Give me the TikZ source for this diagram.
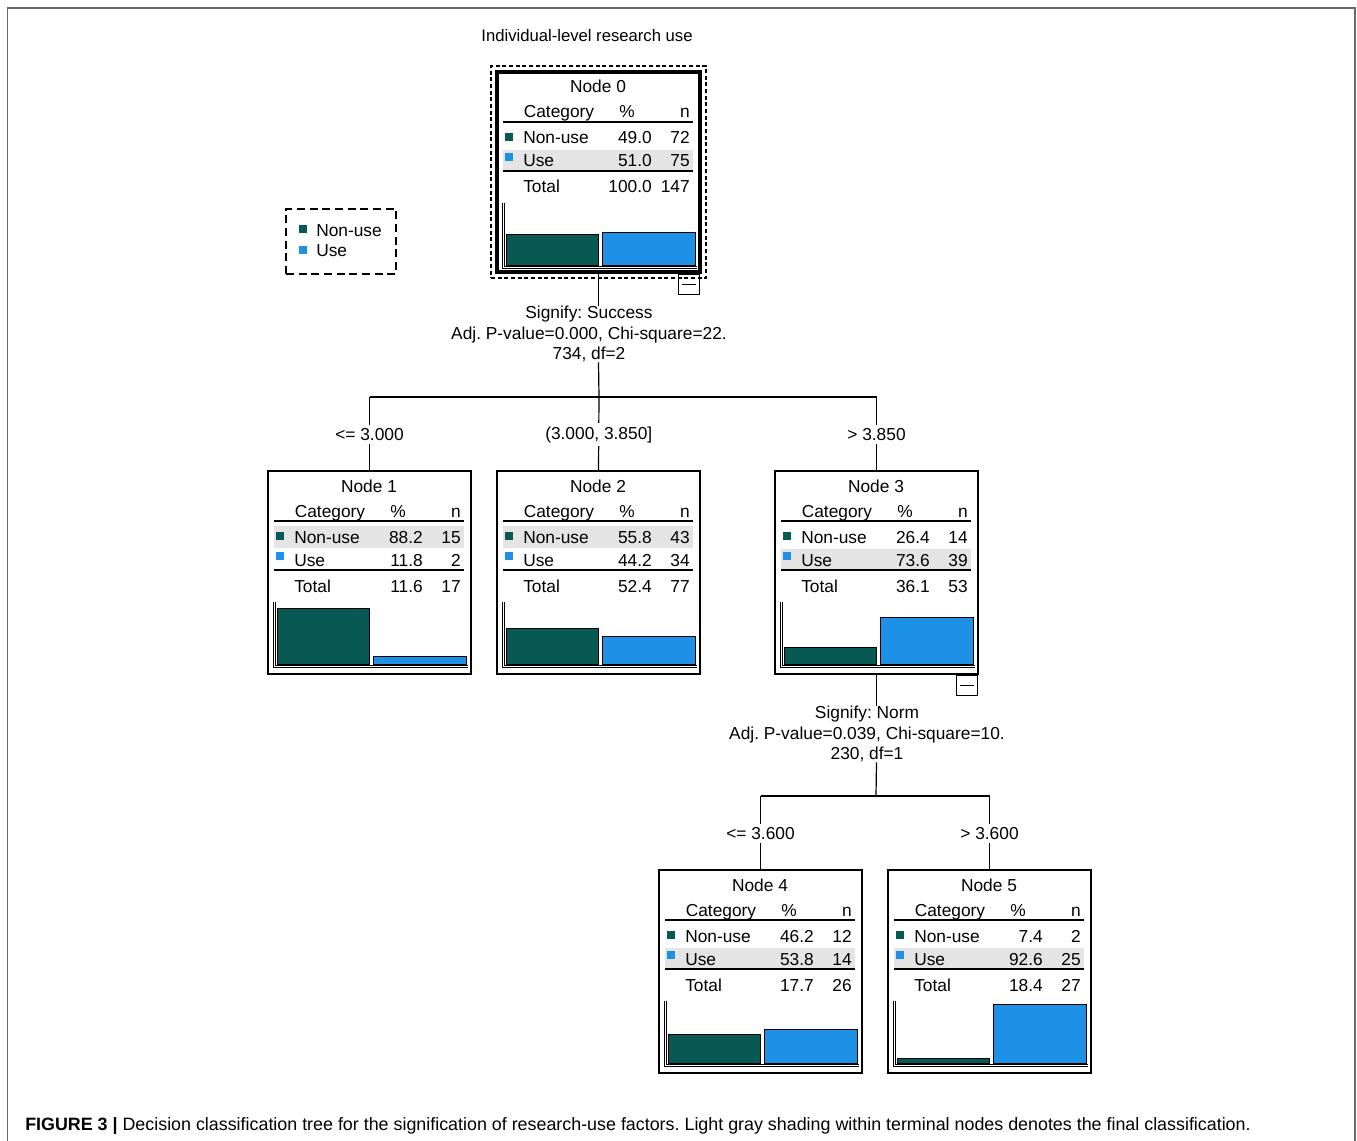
\documentclass[tikz,border=0pt]{standalone}
\usepackage{fontspec}
\setmainfont{Liberation Sans}
\usepackage{tikz}
\usetikzlibrary{positioning,fit}
\usepackage{xcolor}
\definecolor{nonusecol}{RGB}{8,88,84}
\definecolor{usecol}{RGB}{30,144,230}
\definecolor{rowgray}{RGB}{228,228,228}
\definecolor{framegray}{RGB}{105,105,105}
\tikzstyle{ctbox} = [draw, minimum width=152.25pt, anchor=north west, inner sep=0pt, outer sep=0pt]
\tikzstyle{ctxt} = [inner sep=0pt, font=\fontsize{13}{15.5}\selectfont]
\tikzstyle{cond} = [ctxt, fill=white, inner sep=2.5pt]
\tikzstyle{minbox} = [draw, minimum width=15.75pt, minimum height=15pt, anchor=north east, inner sep=0pt]
\tikzstyle{edge} = [line width=0.9pt]
\frenchspacing

\begin{document}
\begin{tikzpicture}[x=0.75pt, y=-0.75pt]
\useasboundingbox (0,0) rectangle (1357,1141);
% Figure frame
\draw[framegray, line width=1.4pt] (7.5,1141) -- (7.5,8) -- (1355,8) -- (1355,1141);
\node[ctxt, anchor=base, font=\fontsize{12.5}{14}\selectfont] (title) at (587,42) {Individual-level research use};

% Tree nodes: name/left/top/height/line/pct non-use/n/pct use/n/pct total/n/shaded row
\foreach \nm/\L/\T/\H/\lw/\pa/\na/\pb/\nb/\pt/\nt/\sh in {
    0/497/72/200/3pt/49.0/72/51.0/75/100.0/147/1,
    1/268/471/203/1pt/88.2/15/11.8/2/11.6/17/0,
    2/497/471/203/1pt/55.8/43/44.2/34/52.4/77/0,
    3/775/471/203/1pt/26.4/14/73.6/39/36.1/53/1,
    4/659/870/203/1pt/46.2/12/53.8/14/17.7/26/1,
    5/888/870/203/1pt/7.4/2/92.6/25/18.4/27/1} {
    \fill[rowgray] ({\L+6},{\T+55+23*\sh}) rectangle ({\L+196},{\T+77+23*\sh});
    \draw[line width=1.2pt] ({\L+6},{\T+50}) -- ++(190,0);
    \draw[line width=1.2pt] ({\L+6},{\T+99}) -- ++(190,0);
    \node[ctxt, anchor=base] (t\nm) at ({\L+101},{\T+21}) {Node \nm};
    \node[ctxt, anchor=base] (hc\nm) at ({\L+62},{\T+46}) {Category};
    \node[ctxt, anchor=base] (hp\nm) at ({\L+130},{\T+46}) {\%};
    \node[ctxt, anchor=base east] (hn\nm) at ({\L+193},{\T+46}) {n};
    \fill[nonusecol] ({\L+8},{\T+61}) rectangle ++(8,8);
    \fill[usecol] ({\L+8},{\T+81}) rectangle ++(8,8);
    \node[ctxt, anchor=base west] (ra\nm) at ({\L+26},{\T+72}) {Non-use};
    \node[ctxt, anchor=base east] (pa\nm) at ({\L+155},{\T+72}) {\pa};
    \node[ctxt, anchor=base east] (na\nm) at ({\L+193},{\T+72}) {\na};
    \node[ctxt, anchor=base west] (rb\nm) at ({\L+26},{\T+95}) {Use};
    \node[ctxt, anchor=base east] (pb\nm) at ({\L+155},{\T+95}) {\pb};
    \node[ctxt, anchor=base east] (nb\nm) at ({\L+193},{\T+95}) {\nb};
    \node[ctxt, anchor=base west] (rt\nm) at ({\L+26},{\T+121}) {Total};
    \node[ctxt, anchor=base east] (pt\nm) at ({\L+155},{\T+121}) {\pt};
    \node[ctxt, anchor=base east] (nt\nm) at ({\L+193},{\T+121}) {\nt};
    % bar chart
    \draw[fill=nonusecol, line width=0.6pt] ({\L+9},{\T+193}) rectangle ({\L+101},{\T+193-0.63*\pa});
    \draw[fill=usecol, line width=0.6pt] ({\L+105},{\T+193}) rectangle ({\L+198},{\T+193-0.63*\pb});
    \draw ({\L+5},{\T+131}) -- ({\L+5},{\T+196}) -- ({\L+200},{\T+196});
    \draw ({\L+7},{\T+131}) -- ({\L+7},{\T+194}) -- ({\L+200},{\T+194});
    \node[ctbox, line width=\lw, minimum height={\H*0.75pt}] (n\nm) at (\L,\T) {};
}

% Root selection and collapse boxes
\node[draw, line width=1.2pt, dash pattern=on 3pt off 2pt, fit=(n0), inner sep=4.5pt] (f0) {};
\node[minbox] (m0) at ([yshift=-1.5pt]n0.south east) {};
\draw ([xshift=3pt]m0.west) -- ([xshift=-3pt]m0.east);
\node[minbox] (m3) at ([yshift=-1pt]n3.south east) {};
\draw ([xshift=3pt]m3.west) -- ([xshift=-3pt]m3.east);

% Legend
\node[draw, line width=1pt, dash pattern=on 6pt off 3.5pt, minimum width=82.5pt, minimum height=48.75pt, inner sep=0pt] (lg) at (341,241.5) {};
\fill[nonusecol] (299,225) rectangle ++(8,8);
\fill[usecol] (299,246) rectangle ++(8,8);
\node[ctxt, anchor=base west] (lg1) at (316,237) {Non-use};
\node[ctxt, anchor=base west] (lg2) at (316,257) {Use};

% First split
\node[ctxt, align=center] (s0) at (589,334) {Signify: Success\\Adj. P-value=0.000, Chi-square=22.\\734, df=2};
\coordinate (j0) at (599,397);
\draw[edge] (n0.south) -- (n0.south |- s0.north);
\draw[edge] (n0.south |- s0.south) -- (j0);
\draw[edge] (n1.north |- j0) -- (n3.north |- j0);
\draw[edge] (n1.north |- j0) -- node[cond, pos=0.51] (c1) {<= 3.000} (n1.north);
\draw[edge] (j0) -- node[cond, pos=0.51] (c2) {(3.000, 3.850]} (n2.north);
\draw[edge] (n3.north |- j0) -- node[cond, pos=0.51] (c3) {> 3.850} (n3.north);

% Second split
\node[ctxt, align=center] (s3) at (867,734) {Signify: Norm\\Adj. P-value=0.039, Chi-square=10.\\230, df=1};
\coordinate (j3) at (876,796);
\draw[edge] (n3.south) -- (n3.south |- s3.north);
\draw[edge] (n3.south |- s3.south) -- (j3);
\draw[edge] (n4.north |- j3) -- (n5.north |- j3);
\draw[edge] (n4.north |- j3) -- node[cond, pos=0.51] (c4) {<= 3.600} (n4.north);
\draw[edge] (n5.north |- j3) -- node[cond, pos=0.51] (c5) {> 3.600} (n5.north);

% Caption
\node[anchor=base west, inner sep=0pt, font=\fontsize{13.4}{15}\selectfont] (cap) at (25,1130) {\textbf{FIGURE 3 |} Decision classification tree for the signification of research-use factors. Light gray shading within terminal nodes denotes the final classification.};
\end{tikzpicture}
\end{document}
